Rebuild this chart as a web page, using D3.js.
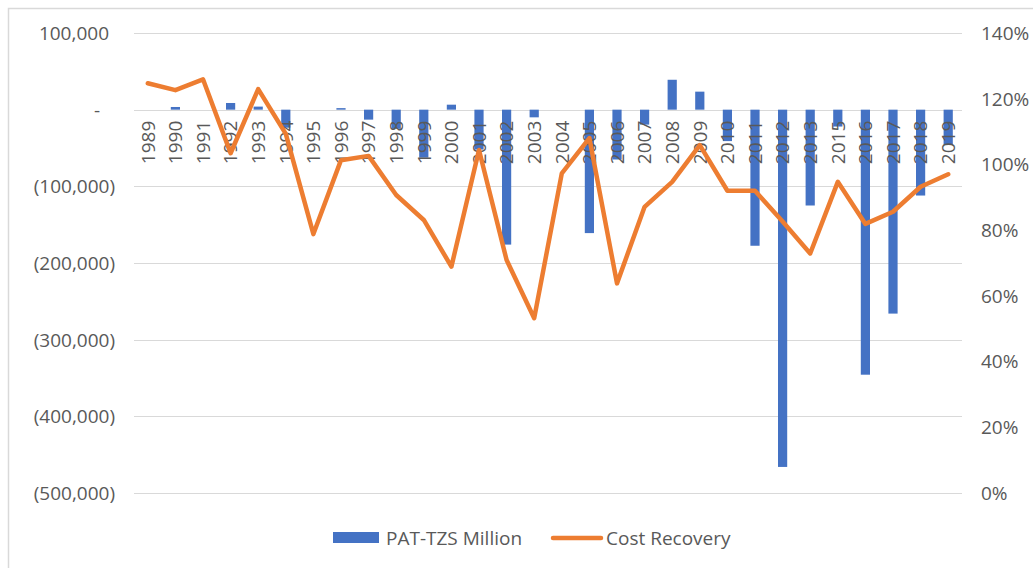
<!DOCTYPE html>
<html>
<head>
<meta charset="utf-8">
<script src="https://cdn.jsdelivr.net/npm/d3@7"></script>
<style>
  html, body { margin: 0; padding: 0; background: #fff; }
  svg { display: block; }
  text { font-family: "Open Sans", "Liberation Sans", sans-serif; fill: #595959; }
</style>
</head>
<body>
<svg id="chart" width="1033" height="568"></svg>
<script>
const years = ["1989","1990","1991","1992","1993","1994","1995","1996","1997","1998","1999","2000","2001","2002","2003","2004","2005","2006","2007","2008","2009","2010","2011","2012","2013","2015","2016","2017","2018","2019"];
const patMillion = [0, 3500, 0, 8700, 4000, -23500, 0, 2000, -13000, -25000, -62500, 6500, -52000, -176000, -10000, 0, -161000, -65000, -19500, 39000, 23500, -41000, -177500, -466000, -125000, -22000, -345700, -266000, -112000, -45500];
const costRecovery = [124.7, 122.6, 125.9, 103.4, 122.9, 109.3, 78.8, 101.3, 102.6, 90.7, 83.1, 68.9, 104.4, 70.9, 53.2, 97.3, 108.0, 63.8, 87.1, 94.7, 105.9, 92.0, 92.0, 82.6, 72.9, 94.7, 81.9, 85.6, 93.2, 97.0];
const leftTicks = [100000, 0, -100000, -200000, -300000, -400000, -500000];
const rightTicks = [0, 20, 40, 60, 80, 100, 120, 140];
const seriesNames = ["PAT-TZS Million", "Cost Recovery"];

const blue = "#4472C4", orange = "#ED7D31", grid = "#d9d9d9";
const svg = d3.select("#chart");
const plot = {left: 134, right: 962, top: 33, bottom: 493};
const fs = "19px";

// chart border
svg.append("rect").attr("x", 8.5).attr("y", 8.5).attr("width", 1040).attr("height", 600)
  .attr("fill", "#fff").attr("stroke", "#d9d9d9").attr("stroke-width", 1.5);

const x = d3.scaleBand().domain(years).range([plot.left, plot.right]).paddingInner(2/3).paddingOuter(1/3);
const xc = d => x(d) + x.bandwidth() / 2;
const yL = d3.scaleLinear().domain([-500000, 100000]).range([plot.bottom, plot.top]);
const yR = d3.scaleLinear().domain([0, 140]).range([plot.bottom, plot.top]);

// gridlines
svg.append("g").selectAll("line").data(leftTicks).join("line")
  .attr("x1", plot.left).attr("x2", plot.right)
  .attr("y1", d => Math.round(yL(d)) + 0.5).attr("y2", d => Math.round(yL(d)) + 0.5)
  .attr("stroke", grid).attr("stroke-width", 1.2);

// left axis labels
const fmt = d3.format(",");
svg.append("g").selectAll("text").data(leftTicks).join("text")
  .attr("x", d => d < 0 ? 115 : (d === 0 ? 100 : 109))
  .attr("y", d => yL(d)).attr("dy", "0.36em")
  .attr("text-anchor", "end").style("font-size", fs)
  .text(d => d < 0 ? "(" + fmt(-d) + ")" : (d === 0 ? "-" : fmt(d)));

// right axis labels
svg.append("g").selectAll("text").data(rightTicks).join("text")
  .attr("x", 981).attr("y", d => yR(d)).attr("dy", "0.36em")
  .attr("text-anchor", "start").style("font-size", fs)
  .text(d => d + "%");

// bars
svg.append("g").selectAll("rect").data(years).join("rect")
  .attr("x", d => x(d)).attr("width", x.bandwidth())
  .attr("y", (d, i) => yL(Math.max(0, patMillion[i])))
  .attr("height", (d, i) => Math.abs(yL(patMillion[i]) - yL(0)))
  .attr("fill", blue);

// category labels
svg.append("g").selectAll("text").data(years).join("text")
  .attr("transform", d => `translate(${xc(d)},${yL(0) + 11}) rotate(-90)`)
  .attr("dy", "0.36em").attr("text-anchor", "end").style("font-size", fs)
  .text(d => d);

// line
const line = d3.line().x((d, i) => xc(years[i])).y(d => yR(d));
svg.append("path").datum(costRecovery).attr("d", line)
  .attr("fill", "none").attr("stroke", orange).attr("stroke-width", 4.5)
  .attr("stroke-linejoin", "round").attr("stroke-linecap", "round");

// legend
const lg = svg.append("g");
lg.append("rect").attr("x", 333).attr("y", 532).attr("width", 46).attr("height", 11).attr("fill", blue);
lg.append("text").attr("x", 386).attr("y", 538).attr("dy", "0.36em").style("font-size", fs).text(seriesNames[0]);
lg.append("line").attr("x1", 553).attr("x2", 601).attr("y1", 538).attr("y2", 538)
  .attr("stroke", orange).attr("stroke-width", 4.5).attr("stroke-linecap", "round");
lg.append("text").attr("x", 606).attr("y", 538).attr("dy", "0.36em").style("font-size", fs).text(seriesNames[1]);
</script>
</body>
</html>
